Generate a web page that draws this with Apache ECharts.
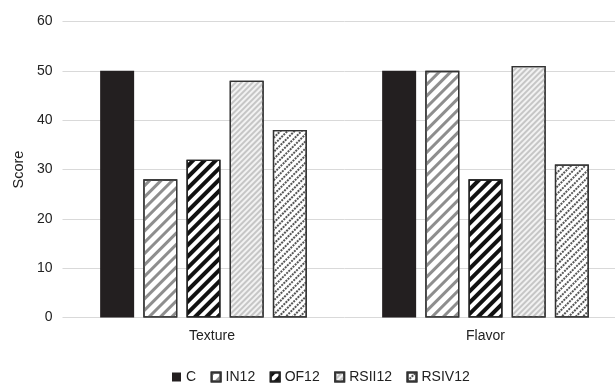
<!DOCTYPE html>
<html>
<head>
<meta charset="utf-8">
<script src="https://cdn.jsdelivr.net/npm/echarts@6/dist/echarts.min.js"></script>
<style>
  html, body { margin: 0; padding: 0; background: #fff; overflow: hidden; }
  /* the plot runs past the right edge of the window */
  #chart { width: 630px; height: 383px; }
</style>
</head>
<body>
<div id="chart"></div>
<script>
// Sensory scores per attribute for each formulation
const categories = ['Texture', 'Flavor'];
const seriesNames = ['C', 'IN12', 'OF12', 'RSII12', 'RSIV12'];
const valuesC = [50, 50];
const valuesIN12 = [28, 50];
const valuesOF12 = [32, 28];
const valuesRSII12 = [48, 51];
const valuesRSIV12 = [38, 31];
const yTicks = [0, 10, 20, 30, 40, 50, 60];

const seriesValues = [valuesC, valuesIN12, valuesOF12, valuesRSII12, valuesRSIV12];

const FONT = '"Liberation Sans", Arial, Helvetica, sans-serif';
const STRIPE = -Math.PI / 4;

// Fill style of each formulation: background colour plus an optional hatch
const fills = [
  { color: '#231f20', border: '#231f20', decal: null },
  { color: '#ffffff', border: '#333333',
    decal: { symbol: 'rect', color: '#8e8e8e', dashArrayX: [1, 0], dashArrayY: [3, 5], rotation: STRIPE } },
  { color: '#ffffff', border: '#222222',
    decal: { symbol: 'rect', color: '#111111', dashArrayX: [1, 0], dashArrayY: [4, 4], rotation: STRIPE } },
  { color: '#f2f2f2', border: '#333333',
    decal: { symbol: 'rect', color: '#c6c6c6', dashArrayX: [1, 0], dashArrayY: [2, 2], rotation: STRIPE } },
  { color: '#ffffff', border: '#333333',
    decal: { symbol: 'rect', color: '#555555', dashArrayX: [[2, 1]], dashArrayY: [1.5, 2.5], rotation: STRIPE } }
];

const series = seriesNames.map((name, i) => {
  const f = fills[i];
  const itemStyle = { color: f.color, borderColor: f.border, borderWidth: i === 0 ? 0 : 1.3 };
  if (f.decal) itemStyle.decal = f.decal;
  return {
    name: name,
    type: 'bar',
    data: seriesValues[i],
    barWidth: 34,
    barGap: '27%',
    itemStyle: itemStyle,
    emphasis: { disabled: true }
  };
});

const chart = echarts.init(document.getElementById('chart'), null, { renderer: 'canvas' });
chart.setOption({
  animation: false,
  aria: { enabled: false },
  grid: { left: 62.5, top: 21.5, width: 564, height: 296, containLabel: false },
  legend: {
    data: seriesNames,
    left: 172,
    top: 370,
    padding: 0,
    itemWidth: 9,
    itemHeight: 9,
    itemGap: 14.5,
    icon: 'rect',
    textStyle: { fontFamily: FONT, fontSize: 14, color: '#222' }
  },
  xAxis: {
    type: 'category',
    data: categories,
    axisLine: { show: false },
    axisTick: { show: false },
    axisLabel: {
      margin: 12,
      fontFamily: FONT,
      fontSize: 14,
      color: '#222',
      formatter: (v, idx) => idx === 0 ? '{a|' + v + '}' : v,
      rich: { a: { padding: [0, 0, 0, 17], fontFamily: FONT, fontSize: 14, color: '#222' } }
    }
  },
  yAxis: {
    type: 'value',
    min: yTicks[0],
    max: yTicks[yTicks.length - 1],
    interval: yTicks[1] - yTicks[0],
    name: 'Score',
    nameLocation: 'middle',
    nameGap: 35,
    nameRotate: 90,
    nameTextStyle: { fontFamily: FONT, fontSize: 14.5, color: '#222' },
    axisLine: { show: false },
    axisTick: { show: false },
    axisLabel: { margin: 10, fontFamily: FONT, fontSize: 14, color: '#222' },
    splitLine: { lineStyle: { color: '#d9d9d9', width: 1 } }
  },
  series: series
});
</script>
</body>
</html>
